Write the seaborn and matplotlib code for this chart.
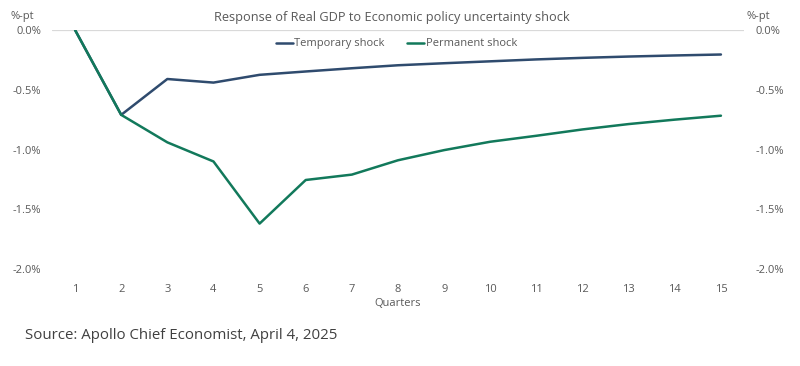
import numpy as np
import pandas as pd
import matplotlib.pyplot as plt
import seaborn as sns

quarters = list(range(1, 16))
temporary = [0.0, -0.71, -0.41, -0.44, -0.375, -0.347, -0.32, -0.295, -0.278,
             -0.262, -0.246, -0.233, -0.222, -0.213, -0.205]
permanent = [0.0, -0.71, -0.94, -1.10, -1.62, -1.255, -1.21, -1.09, -1.005,
             -0.935, -0.885, -0.832, -0.787, -0.75, -0.717]
yticks = [0.0, -0.5, -1.0, -1.5, -2.0]

df = pd.DataFrame({
    "quarter": quarters * 2,
    "value": temporary + permanent,
    "series": ["Temporary shock"] * 15 + ["Permanent shock"] * 15,
})

sns.set_theme(style="white")
plt.rcParams["font.family"] = ["Open Sans", "DejaVu Sans"]

TXT = "#595959"
palette = {"Temporary shock": "#2f4b6e", "Permanent shock": "#12795b"}

fig = plt.figure(figsize=(8, 3.66), dpi=100)
ax = fig.add_axes([0.065, 0.265, 0.865, 0.653])
sns.lineplot(data=df, x="quarter", y="value", hue="series", palette=palette,
             linewidth=1.8, ax=ax, legend=False)

ax.set_xlim(0.5, 15.5)
ax.set_ylim(-2.0, 0.0)
sns.despine(ax=ax, left=True, bottom=True)
ax.axhline(0, color="#d9d9d9", lw=0.9, zorder=0)

ax.set_xticks(quarters)
ax.set_xticklabels([str(q) for q in quarters], fontsize=8, color=TXT)
ax.tick_params(axis="x", length=0, pad=11)
ax.set_yticks(yticks)
ax.set_yticklabels([f"{v:.1f}%" for v in yticks], fontsize=8, color=TXT)
ax.tick_params(axis="y", length=0, pad=8, labelright=True)
ax.set_xlabel("Quarters", fontsize=8, color=TXT, labelpad=2)
ax.set_ylabel("")

fig.text(0.013, 0.955, "%-pt", fontsize=8, color=TXT, va="center")
fig.text(0.933, 0.955, "%-pt", fontsize=8, color=TXT, va="center")
fig.text(0.49, 0.952, "Response of Real GDP to Economic policy uncertainty shock",
         fontsize=9.2, color=TXT, ha="center", va="center")

# legend
for name, x0 in [("Temporary shock", 0.345), ("Permanent shock", 0.509)]:
    fig.add_artist(plt.Line2D([x0, x0 + 0.021], [0.882, 0.882],
                              color=palette[name], lw=1.8))
    fig.text(x0 + 0.023, 0.882, name, fontsize=8, color=TXT, va="center")

fig.text(0.031, 0.082, "Source: Apollo Chief Economist, April 4, 2025",
         fontsize=10.8, color="#404040", va="center")

fig.savefig("out.png", dpi=100, facecolor="white")
